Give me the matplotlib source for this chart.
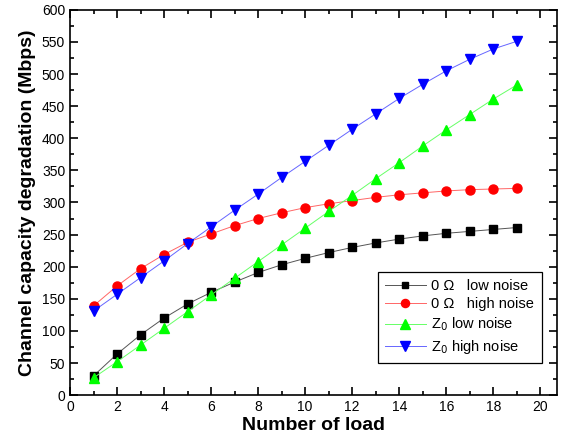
import matplotlib
matplotlib.use('Agg')
import matplotlib.pyplot as plt
from matplotlib.ticker import MultipleLocator

plt.rcParams['font.family'] = ['Liberation Sans', 'DejaVu Sans']

# Data
loads = [1, 2, 3, 4, 5, 6, 7, 8, 9, 10, 11, 12, 13, 14, 15, 16, 17, 18, 19]
ohm_low = [30, 64, 94, 120, 142, 160, 176, 191, 203, 213, 222, 230, 237, 243, 248, 252, 255, 258, 261]
ohm_high = [139, 170, 197, 219, 238, 251, 264, 275, 284, 292, 298, 303, 308, 312, 315, 318, 320, 321, 322]
z0_low = [27, 52, 78, 104, 130, 156, 182, 208, 234, 260, 286, 311, 337, 362, 388, 413, 437, 461, 483]
z0_high = [131, 157, 183, 209, 236, 262, 288, 313, 339, 364, 389, 414, 438, 462, 484, 505, 523, 539, 551]

fig = plt.figure(figsize=(5.62, 4.48), dpi=100)
ax = fig.add_axes([0.1246, 0.118, 0.866, 0.86])

ax.plot(loads, ohm_low, color='#555555', lw=0.7, marker='s', ms=5.5, mfc='black', mec='black',
        label='0 \u03a9   low noise')
ax.plot(loads, ohm_high, color='#ff6666', lw=0.7, marker='o', ms=6.5, mfc='red', mec='red',
        label='0 \u03a9   high noise')
ax.plot(loads, z0_low, color='#66ff66', lw=0.7, marker='^', ms=7.5, mfc='#00ff00', mec='#00ff00',
        label='Z$_0$ low noise')
ax.plot(loads, z0_high, color='#6666ff', lw=0.7, marker='v', ms=7.5, mfc='blue', mec='blue',
        label='Z$_0$ high noise')

ax.set_xlim(0, 20.7)
ax.set_ylim(0, 600)
ax.xaxis.set_major_locator(MultipleLocator(2))
ax.xaxis.set_minor_locator(MultipleLocator(1))
ax.yaxis.set_major_locator(MultipleLocator(50))
ax.yaxis.set_minor_locator(MultipleLocator(25))
ax.tick_params(which='both', direction='in', top=True, right=True, labelsize=10, width=1.2)
ax.tick_params(which='major', length=6)
ax.tick_params(which='minor', length=3)
for s in ax.spines.values():
    s.set_linewidth(1.2)

ax.set_xlabel('Number of load', fontsize=14, fontweight='bold', labelpad=2)
ax.set_ylabel('Channel capacity degradation (Mbps)', fontsize=14, fontweight='bold', labelpad=4)

leg = ax.legend(loc='lower right', bbox_to_anchor=(0.969, 0.083), borderaxespad=0, fontsize=10.5,
                fancybox=False, edgecolor='black', framealpha=1, handlelength=2.8, handletextpad=0.4,
                borderpad=0.5, labelspacing=0.3, markerscale=0.9)
leg.get_frame().set_linewidth(0.9)

fig.savefig('out.png', dpi=100)
